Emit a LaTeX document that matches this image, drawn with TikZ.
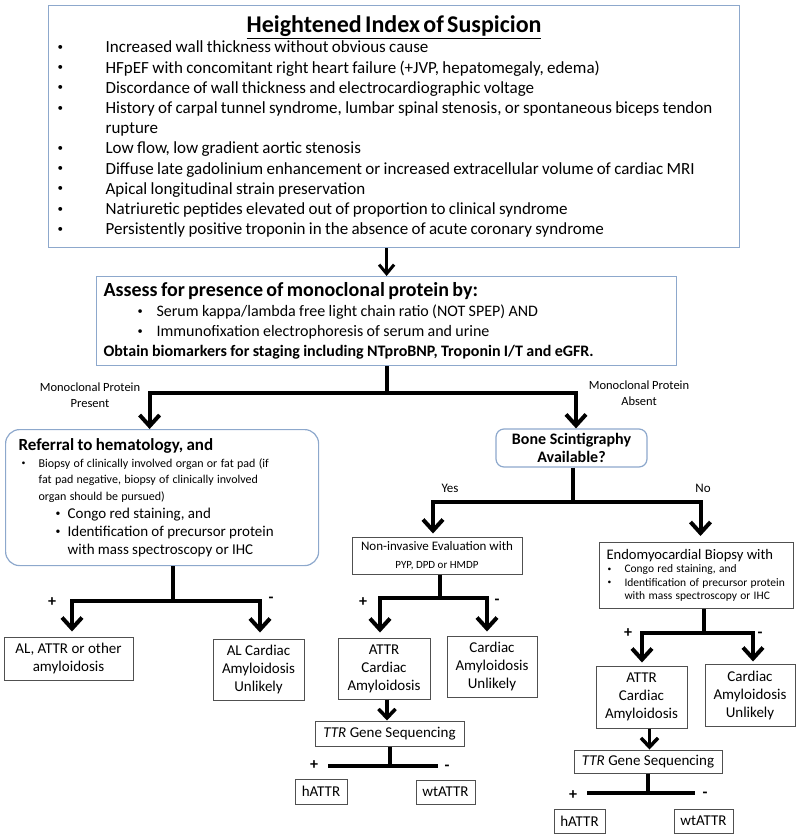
\documentclass[tikz,border=0pt]{standalone}
\usepackage{fontspec}
\setmainfont{Carlito}
\usepackage{enumitem}
\usetikzlibrary{arrows.meta,positioning,calc}

\definecolor{boxblue}{RGB}{141,168,204}
\definecolor{boxgray}{RGB}{80,80,80}

\newcommand{\dotlabel}{\raisebox{.14em}{\scalebox{.65}{\textbullet}}}
\setlist[itemize]{label=\dotlabel}

\tikzset{
  bluebox/.style={draw=boxblue, line width=1.2pt, anchor=north west, inner ysep=0pt},
  plainbox/.style={draw=boxgray, line width=1pt, align=center, inner sep=0pt, font=\fontsize{15}{18}\selectfont},
  conn/.style={line width=4pt},
  arrowdn/.style={-{Straight Barb[length=11pt,width=20pt]}},
  arrowsm/.style={-{Straight Barb[length=9pt,width=17pt]}},
  sign/.style={font=\fontsize{16}{16}\selectfont\bfseries, inner sep=0pt},
  branchlabel/.style={align=center, font=\fontsize{12.5}{16}\selectfont, inner sep=0pt},
}

\begin{document}
\begin{tikzpicture}[x=1pt,y=-1pt]
  \useasboundingbox (0,0) rectangle (800,838);

  % Suspicion box
  \node[bluebox, minimum width=691pt, minimum height=242pt, inner xsep=9pt, text width=673pt] (susp) at (48,5)
  {\fontsize{17}{20.2}\selectfont
   {\centering\fontsize{24}{30}\selectfont\bfseries\underline{Heightened Index of Suspicion}\par}
   \begin{itemize}[nosep,leftmargin=48pt,labelwidth=48pt,labelsep=0pt,align=left]
     \item Increased wall thickness without obvious cause
     \item HFpEF with concomitant right heart failure (+JVP, hepatomegaly, edema)
     \item Discordance of wall thickness and electrocardiographic voltage
     \item History of carpal tunnel syndrome, lumbar spinal stenosis, or spontaneous biceps tendon\newline rupture
     \item Low flow, low gradient aortic stenosis
     \item Diffuse late gadolinium enhancement or increased extracellular volume of cardiac MRI
     \item Apical longitudinal strain preservation
     \item Natriuretic peptides elevated out of proportion to clinical syndrome
     \item Persistently positive troponin in the absence of acute coronary syndrome
   \end{itemize}};

  % Monoclonal protein box
  \node[bluebox, minimum width=580pt, minimum height=89pt, inner xsep=7pt, text width=566pt] (assess) at (96,276)
  {\fontsize{16}{20}\selectfont
   {\fontsize{20}{22}\selectfont\bfseries Assess for presence of monoclonal protein by:\par}
   \begin{itemize}[nosep,leftmargin=53pt,labelwidth=19pt,labelsep=0pt,align=left,labelindent=34pt]
     \item Serum kappa/lambda free light chain ratio (NOT SPEP) AND
     \item Immunofixation electrophoresis of serum and urine
   \end{itemize}
   {\bfseries Obtain biomarkers for staging including NTproBNP, Troponin I/T and eGFR.\par}};

  \draw[line width=3pt, -{Straight Barb[length=9pt,width=15pt]}] (assess.north |- susp.south) -- (assess.north);

  % Referral box
  \node[bluebox, rounded corners=14pt, minimum width=313pt, minimum height=136pt, inner xsep=13pt, text width=287pt] (refer) at (5,429)
  {\raggedright
   {\fontsize{17}{19}\selectfont\bfseries Referral to hematology, and\par}
   \fontsize{12}{16.5}\selectfont
   \begin{itemize}[nosep,leftmargin=20pt,labelwidth=17pt,labelsep=0pt,align=left,labelindent=3pt]
     \item Biopsy of clinically involved organ or fat pad (if\newline fat pad negative, biopsy of clinically involved\newline organ should be pursued)
     \begin{itemize}[nosep,leftmargin=29pt,labelwidth=12pt,labelsep=0pt,align=left,labelindent=17pt]
       \fontsize{15}{18}\selectfont
       \item Congo red staining, and
       \item Identification of precursor protein\newline with mass spectroscopy or IHC
     \end{itemize}
   \end{itemize}};

  % Bone scintigraphy box
  \node[draw=boxblue, line width=1.2pt, rounded corners=8pt, minimum width=151pt, minimum height=38pt,
        align=center, inner sep=0pt, font=\fontsize{16}{18.7}\selectfont\bfseries] (bone) at (571.5,448)
  {Bone Scintigraphy\\Available?};

  \node[branchlabel] (present) at (90,395) {Monoclonal Protein\\Present};
  \node[branchlabel] (absent) at (639,393.5) {Monoclonal Protein\\Absent};

  \draw[conn] (assess.south) -- ++(0,27) coordinate (j1);
  \draw[conn, arrowdn] (j1) -| ([xshift=-12.5pt]refer.north);
  \draw[conn, arrowdn] (j1) -| ([xshift=4.5pt]bone.north);

  % Referral results
  \node[plainbox, minimum width=129pt, minimum height=43pt] (alother) at (68.5,658.5) {AL, ATTR or other\\amyloidosis};
  \node[plainbox, minimum width=91pt, minimum height=61pt] (alunl) at (258.5,669.5) {AL Cardiac\\Amyloidosis\\Unlikely};

  \draw[conn] ([xshift=10.5pt]refer.south) -- ++(0,35) coordinate (j2);
  \draw[conn, arrowdn, shorten >=5pt] (j2) -| ([xshift=3.5pt]alother.north);
  \draw[conn, arrowdn, shorten >=6pt] (j2) -| ([xshift=1.5pt]alunl.north);
  \node[sign] (pl1) at (52,602) {+};
  \node[sign] (mn1) at (271,600) {-};

  % Non-invasive branch
  \node[plainbox, minimum width=170pt, minimum height=37pt] (noninv) at (437,555.5)
  {{\fontsize{13}{14}\selectfont Non-invasive Evaluation with}\\{\fontsize{11}{13}\selectfont PYP, DPD or HMDP}};

  % Endomyocardial biopsy box
  \node[draw=boxgray, line width=1pt, anchor=north west, minimum width=194pt, minimum height=66pt,
        inner xsep=7pt, inner ysep=0pt, text width=180pt] (endo) at (599,542)
  {\raggedright
   {\fontsize{14.6}{17}\selectfont Endomyocardial Biopsy with\par}
   \fontsize{11.5}{13.5}\selectfont
   \begin{itemize}[nosep,leftmargin=18pt,labelwidth=17pt,labelsep=0pt,align=left,labelindent=1pt]
     \item Congo red staining, and
     \item Identification of precursor protein\newline with mass spectroscopy or IHC
   \end{itemize}};

  \node[branchlabel, font=\fontsize{13}{16}\selectfont] (yes) at (450,488) {Yes};
  \node[branchlabel, font=\fontsize{13}{16}\selectfont] (no) at (703,488) {No};

  \draw[conn] ([xshift=1.5pt]bone.south) -- ++(0,34) coordinate (j3);
  \draw[conn, arrowdn, shorten >=3pt] (j3) -| ([xshift=-4pt]noninv.north);
  \draw[conn, arrowdn, shorten >=6pt] (j3) -| ([xshift=4pt]endo.north);

  % Non-invasive results
  \node[plainbox, minimum width=92pt, minimum height=61pt] (attrm) at (384,668.5) {ATTR\\Cardiac\\Amyloidosis};
  \node[plainbox, minimum width=90pt, minimum height=61pt] (cunlm) at (492,666.5) {Cardiac\\Amyloidosis\\Unlikely};

  \draw[conn] ([xshift=3pt]noninv.south) -- ++(0,23) coordinate (j4);
  \draw[conn, arrowdn, shorten >=5pt] (j4) -| ([xshift=-4pt]attrm.north);
  \draw[conn, arrowdn, shorten >=4pt] (j4) -| ([xshift=-5pt]cunlm.north);
  \node[sign] (pl2) at (363,602) {+};
  \node[sign] (mn2) at (497,602) {-};

  \node[plainbox, minimum width=149pt, minimum height=25pt] (ttrm) at (389.5,733.5) {\textit{TTR} Gene Sequencing};
  \draw[line width=3.5pt, arrowsm] ([xshift=3pt]attrm.south) -- ([xshift=3pt]attrm.south |- ttrm.north);

  \node[plainbox, minimum width=52pt, minimum height=25pt] (hattrm) at (321,791.5) {hATTR};
  \node[plainbox, minimum width=59pt, minimum height=24pt] (wtattrm) at (445.5,792) {wtATTR};
  \draw[conn] (ttrm.south) -- ++(0,19) coordinate (j6);
  \draw[conn] ($(hattrm.north |- j6)+(7,0)$) -- ($(wtattrm.north |- j6)+(-8,0)$);
  \node[sign] (pl4) at (314,765) {+};
  \node[sign] (mn4) at (447,768) {-};

  % Biopsy results
  \node[plainbox, minimum width=91pt, minimum height=62pt] (attrr) at (641.5,697) {ATTR\\Cardiac\\Amyloidosis};
  \node[plainbox, minimum width=90pt, minimum height=62pt] (cunlr) at (750,695) {Cardiac\\Amyloidosis\\Unlikely};

  \draw[conn] ([xshift=7pt]endo.south) -- ++(0,24) coordinate (j5);
  \draw[conn, arrowdn, shorten >=3pt] (j5) -| ([xshift=0.5pt]attrr.north);
  \draw[conn, arrowdn, shorten >=2pt] (j5) -| ([xshift=3pt]cunlr.north);
  \node[sign] (pl3) at (628,633) {+};
  \node[sign] (mn3) at (760,635) {-};

  \node[plainbox, minimum width=148pt, minimum height=23pt] (ttrr) at (648,761.5) {\textit{TTR} Gene Sequencing};
  \draw[line width=3.5pt, arrowsm] ([xshift=8pt]attrr.south) -- ([xshift=8pt]attrr.south |- ttrr.north);

  \node[plainbox, minimum width=51pt, minimum height=24pt] (hattrr) at (579.5,821) {hATTR};
  \node[plainbox, minimum width=59pt, minimum height=24pt] (wtattrr) at (703.5,821) {wtATTR};
  \draw[conn] (ttrr.south) -- ++(0,19) coordinate (j7);
  \draw[conn] ($(hattrr.north |- j7)+(7.5,0)$) -- ($(wtattrr.north |- j7)+(-8.5,0)$);
  \node[sign] (pl5) at (573,795) {+};
  \node[sign] (mn5) at (705,795) {-};
\end{tikzpicture}
\end{document}
